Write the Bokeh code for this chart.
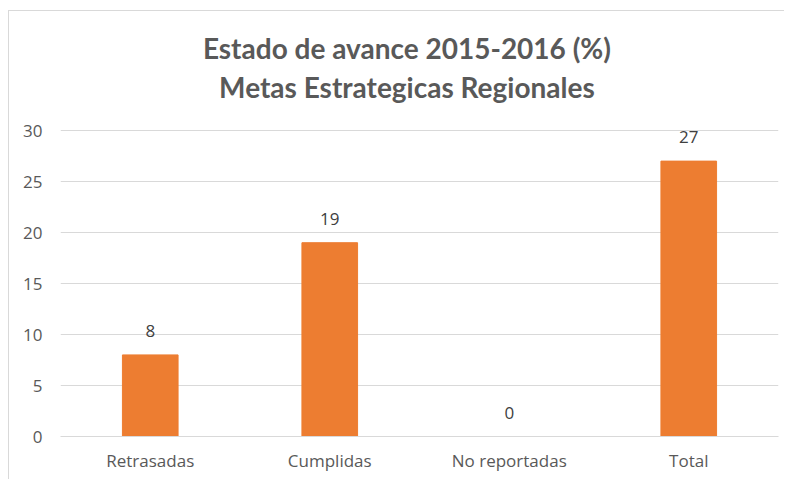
from bokeh.plotting import figure
from bokeh.models import ColumnDataSource, FactorRange, Range1d, Label, LabelSet, FixedTicker
from bokeh.core.properties import value
from bokeh.embed import file_html
from bokeh.resources import INLINE

categories = ["Retrasadas", "Cumplidas", "No reportadas", "Total"]
values = [8, 19, 0, 27]
labels = ["8", "19", "0", "27"]
y_ticks = [0, 5, 10, 15, 20, 25, 30]
title_lines = ["Estado de avance 2015-2016 (%)", "Metas Estrategicas Regionales"]

src = ColumnDataSource(dict(cat=categories, val=values, lab=labels))

# y range extends above 30 so the two title lines sit inside the frame; ticks/grid stop at 30
p = figure(x_range=FactorRange(*categories, range_padding=0), y_range=Range1d(0, 41.67),
           width=776, height=469, output_backend="svg", toolbar_location=None,
           min_border_left=51, min_border_right=7, min_border_bottom=44, min_border_top=0)
p.title = None

for txt, yy in zip(title_lines, [38.05, 34.23]):
    p.add_layout(Label(x=1.93, y=yy, text=txt, text_align="center", text_baseline="alphabetic",
                       text_font="Lato", text_font_size="28px", text_font_style="bold",
                       text_color="#595959"))

p.vbar(x="cat", top="val", width=0.31, source=src, color="#ED7D31")

p.add_layout(LabelSet(x="cat", y="val", text="lab", source=src, y_offset=24,
                      text_align="center", text_baseline="middle",
                      text_font=value("Open Sans"), text_font_size=value("17px"),
                      text_color="#404040"))

p.outline_line_color = None
p.xgrid.grid_line_color = None
p.ygrid.grid_line_color = "#d9d9d9"
p.ygrid.grid_line_width = 1
p.yaxis.ticker = FixedTicker(ticks=y_ticks)
p.yaxis.axis_line_color = None
p.yaxis.major_tick_line_color = None
p.yaxis.minor_tick_line_color = None
p.yaxis.major_tick_out = 0
p.yaxis.major_label_standoff = 18
p.xaxis.axis_line_color = "#d9d9d9"
p.xaxis.major_tick_line_color = None
p.xaxis.minor_tick_line_color = None
p.xaxis.major_tick_out = 0
p.xaxis.major_label_standoff = 12
for ax in (p.xaxis[0], p.yaxis[0]):
    ax.major_label_text_font = "Open Sans"
    ax.major_label_text_font_size = "17px"
    ax.major_label_text_color = "#595959"

p.styles = {"margin-left": "8px", "margin-top": "10px",
            "border-top": "1px solid #d9d9d9", "border-left": "1px solid #d9d9d9"}

open("out.html", "w").write(file_html(p, INLINE))
